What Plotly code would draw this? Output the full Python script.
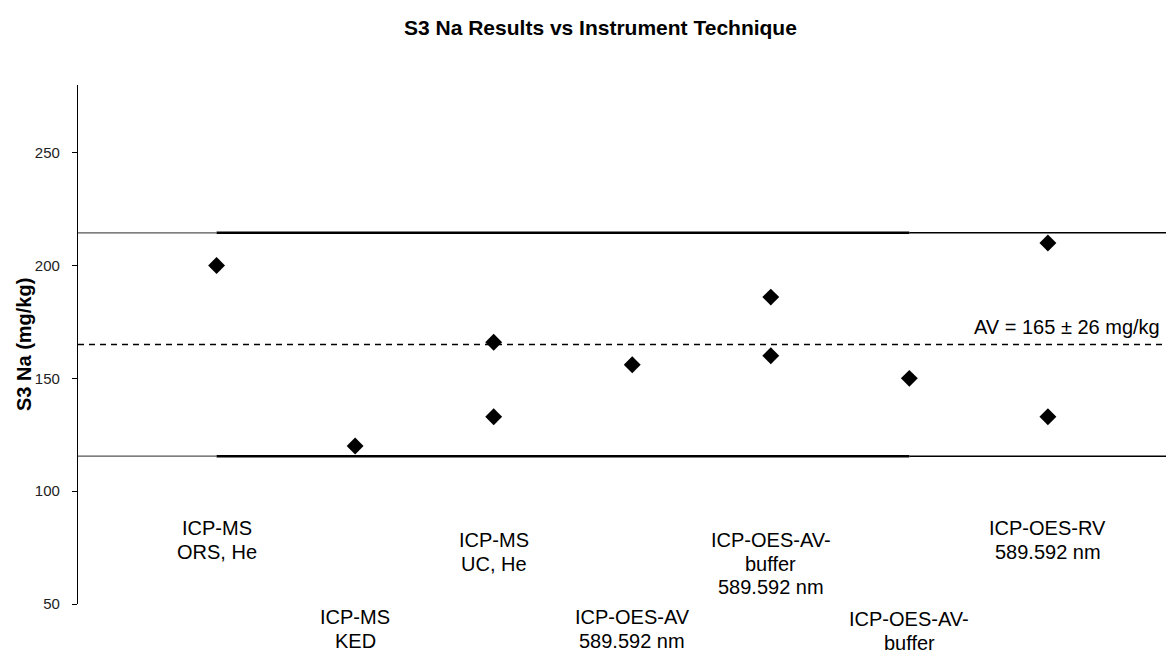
import plotly.graph_objects as go

# ---- data ----
categories = [
    "ICP-MS\nORS, He",
    "ICP-MS\nKED",
    "ICP-MS\nUC, He",
    "ICP-OES-AV\n589.592 nm",
    "ICP-OES-AV-\nbuffer\n589.592 nm",
    "ICP-OES-AV-\nbuffer\n589.592 nm",
    "ICP-OES-RV\n589.592 nm",
]
point_cat = [1, 2, 3, 3, 4, 5, 5, 6, 7, 7]
point_val = [200, 120, 166, 133, 156, 186, 160, 150, 210, 133]
assigned_value = 165
uncertainty = 26
lower_limit = 115.5
upper_limit = 214.5
y_ticks = [50, 100, 150, 200, 250]

FONT = "Liberation Sans, Arial, sans-serif"
OFF = 8                      # page body margin
W, H = 1174 - OFF, 650 - OFF
L, R, T, B = 78 - OFF, 0, 85 - OFF, 46
plot_w = W - L - R
plot_h = H - T - B

def py(ref_pix):
    return (H - B - (ref_pix - OFF)) / plot_h

def px(ref_pix):
    return (ref_pix - OFF - L) / plot_w

fig = go.Figure()
fig.add_trace(go.Scatter(
    x=point_cat, y=point_val, mode="markers",
    marker=dict(symbol="diamond", size=13, color="black"),
    showlegend=False, hoverinfo="y",
))

xmax = 7.91
for lv in (lower_limit, upper_limit):
    fig.add_shape(type="line", xref="x", yref="y", x0=0, x1=1, y0=lv, y1=lv,
                  line=dict(color="#555555", width=1.3))
    fig.add_shape(type="line", xref="x", yref="y", x0=1, x1=6, y0=lv, y1=lv,
                  line=dict(color="black", width=2.6))
    fig.add_shape(type="line", xref="x", yref="y", x0=6, x1=xmax, y0=lv, y1=lv,
                  line=dict(color="black", width=1.6))
fig.add_shape(type="line", xref="x", yref="y", x0=0, x1=xmax,
              y0=assigned_value, y1=assigned_value,
              line=dict(color="black", width=1.5, dash="6px,5px"))

label_tops = [528, 617, 540, 617, 540, 619, 528]
for i, (lab, top) in enumerate(zip(categories, label_tops)):
    for k, line in enumerate(lab.split("\n")):
        fig.add_annotation(x=i + 1, xref="x", y=py(top + k * 23.5), yref="paper",
                           text=line, showarrow=False, xanchor="center", yanchor="middle",
                           font=dict(family=FONT, size=20, color="black"))

fig.add_annotation(x=px(1162), xref="paper", y=py(327), yref="paper",
                   text=f"AV = {assigned_value} ± {uncertainty} mg/kg",
                   showarrow=False, xanchor="right", yanchor="middle",
                   font=dict(family=FONT, size=20, color="black"))

fig.add_annotation(x=px(24), xref="paper", y=py(345), yref="paper",
                   text="<b>S3 Na (mg/kg)</b>", textangle=-90, showarrow=False,
                   xanchor="center", yanchor="middle",
                   font=dict(family=FONT, size=20, color="black"))

fig.add_annotation(x=px(600), xref="paper", y=py(27), yref="paper",
                   text="<b>S3 Na Results vs Instrument Technique</b>", showarrow=False,
                   xanchor="center", yanchor="middle",
                   font=dict(family=FONT, size=21, color="black"))

fig.update_layout(
    width=W, height=H,
    margin=dict(l=L, r=R, t=T, b=B),
    plot_bgcolor="white", paper_bgcolor="white",
    xaxis=dict(range=[0, xmax], visible=False, showgrid=False, zeroline=False),
    yaxis=dict(range=[50, 280], tickvals=y_ticks, showgrid=False, zeroline=False,
               showline=True, linecolor="black", linewidth=1.2,
               ticks="outside", ticklen=5, tickcolor="black",
               ticklabelstandoff=9,
               tickfont=dict(family=FONT, size=15, color="#222222")),
    font=dict(family=FONT),
)

fig.write_html("out.html")
